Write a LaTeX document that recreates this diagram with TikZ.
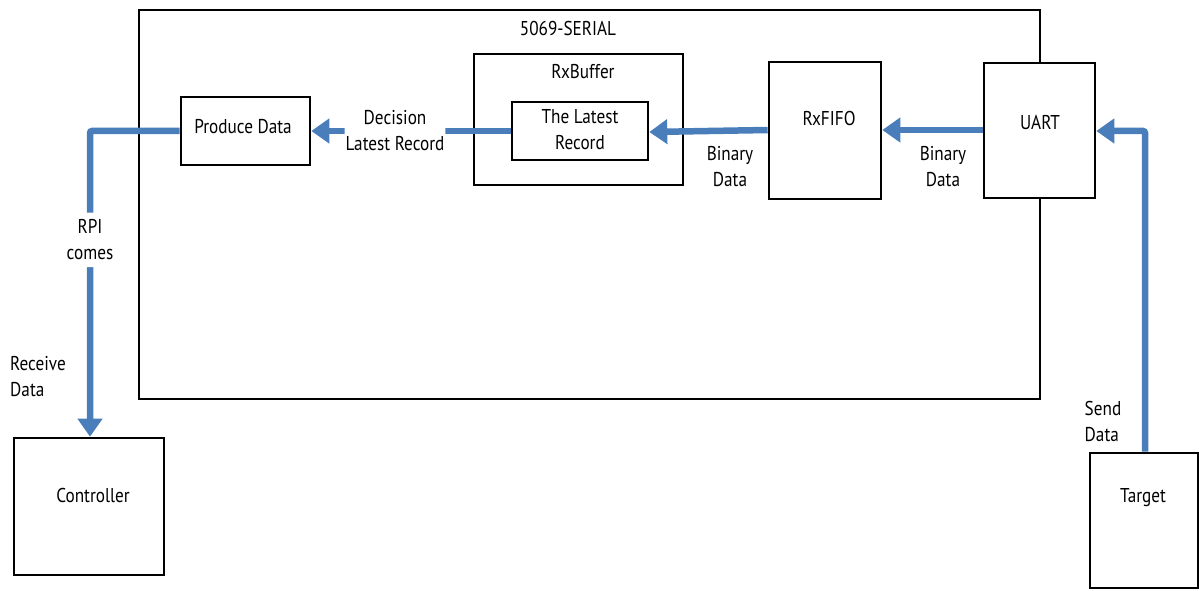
\documentclass[tikz,border=0pt]{standalone}
\usepackage{fontspec}
\setmainfont[FakeStretch=0.86]{PT Sans}
\usetikzlibrary{arrows.meta}
\definecolor{flowblue}{RGB}{74,126,187}
\tikzset{
	box/.style={draw=black,fill=white,line width=2.6pt,inner sep=0pt},
	txt/.style={inner sep=1pt,align=center,font=\fontsize{20}{26}\selectfont},
	flow/.style={draw=flowblue,line width=6.5pt,rounded corners=2pt,
		-{Triangle[width=24pt,length=18pt]}},
}
\begin{document}
\begin{tikzpicture}[x=1pt,y=-1pt]
		\useasboundingbox (0,0) rectangle (1199,591);
		% the module
		\node[box,fill=none,minimum width=901,minimum height=389] (serial) at (589.5,204.5) {};
		\node[txt] (serial-t) at (568,29) {5069-SERIAL};
		% boxes inside
		\node[box,minimum width=129,minimum height=68] (produce) at (245.5,131) {};
		\node[txt] (produce-t) at (243,127) {Produce Data};
		\node[box,minimum width=209,minimum height=131] (rxbuf) at (578.5,119.5) {};
		\node[txt] (rxbuf-t) at (583,72) {RxBuffer};
		\node[box,minimum width=136,minimum height=58] (latest) at (580,131) {};
		\node[txt] (latest-t) at (580,130) {The Latest\\Record};
		\node[box,minimum width=112,minimum height=137] (fifo) at (825,130.5) {};
		\node[txt] (fifo-t) at (829,118) {RxFIFO};
		\node[box,minimum width=111,minimum height=135] (uart) at (1039.5,130.5) {};
		\node[txt] (uart-t) at (1040,122) {UART};
		% outside
		\node[box,minimum width=150,minimum height=137] (ctrl) at (89,506.5) {};
		\node[txt] (ctrl-t) at (93,495) {Controller};
		\node[box,minimum width=108,minimum height=135] (target) at (1144,520.5) {};
		\node[txt] (target-t) at (1143,498) {Target};
		% data flow
		\draw[flow] (uart.west |- 0,130) -- (fifo.east |- 0,130);
		\draw[flow] (fifo.west |- 0,130) -- (latest.east |- 0,132);
		\draw[flow] (latest.west) -- node[txt,fill=white,pos=0.58] (decide) {Decision\\Latest Record} (produce.east);
		\draw[flow] (produce.west) -| node[txt,fill=white,inner ysep=7pt,pos=0.678] (rpi) {RPI\\comes} (ctrl.north -| 90,0);
		\draw[flow] (target.north -| 1145,0) |- (uart.east |- 0,131);
		% labels
		\node[txt] (bin1) at (943,167) {Binary\\Data};
		\node[txt] (bin2) at (730,167) {Binary\\Data};
		\node[txt,align=left] (recv) at (38,377) {Receive\\Data};
		\node[txt,align=left] (send) at (1103,421) {Send\\Data};
\end{tikzpicture}
\end{document}
